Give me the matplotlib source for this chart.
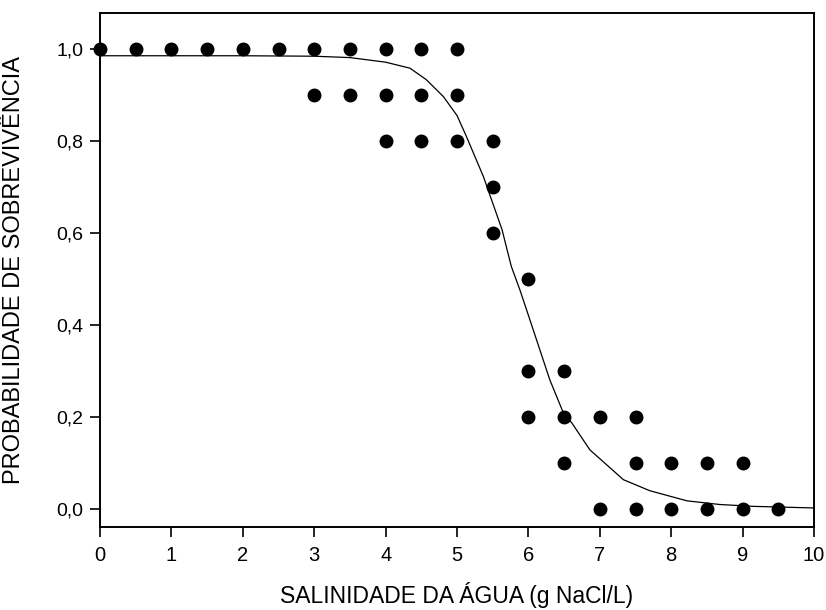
import matplotlib
matplotlib.use("Agg")
import matplotlib.pyplot as plt
from matplotlib.ticker import FuncFormatter

# observed survival proportions (salinity g NaCl/L, probability)
obs_x = [0, 0.5, 1, 1.5, 2, 2.5, 3, 3.5, 4, 4.5, 5,
         3, 3.5, 4, 4.5, 5,
         4, 4.5, 5, 5.5,
         5.5, 5.5, 6,
         6, 6.5,
         6, 6.5, 7, 7.5,
         6.5, 7.5, 8, 8.5, 9,
         7, 7.5, 8, 8.5, 9, 9.5]
obs_y = [1.0] * 11 + [0.9] * 5 + [0.8] * 4 + [0.7, 0.6, 0.5] + [0.3] * 2 + [0.2] * 4 + [0.1] * 5 + [0.0] * 6

# fitted curve
fit_x = [0, 1, 2, 3, 3.5, 4.0, 4.34, 4.57, 4.81, 5.0, 5.13, 5.37, 5.63, 5.76, 5.88,
         6.02, 6.3, 6.49, 6.61, 6.86, 7.33, 7.7, 8.22, 8.68, 9.15, 10]
fit_y = [0.985, 0.985, 0.985, 0.984, 0.981, 0.971, 0.958, 0.933, 0.896, 0.855, 0.81,
         0.722, 0.607, 0.527, 0.476, 0.411, 0.28, 0.208, 0.186, 0.128, 0.063, 0.039,
         0.017, 0.009, 0.005, 0.0015]

x_ticks = list(range(0, 11))
y_ticks = [0.0, 0.2, 0.4, 0.6, 0.8, 1.0]

plt.rcParams["font.family"] = ["Liberation Sans", "DejaVu Sans"]

fig = plt.figure(figsize=(8.26, 6.10), dpi=100)
ax = fig.add_axes([0.1211, 0.136, 0.8644, 0.8427])

ax.plot(fit_x, fit_y, color="black", lw=0.9)
ax.plot(obs_x, obs_y, "o", color="black", ms=9, mec="black", clip_on=False)

ax.set_xlim(0, 10)
ax.set_ylim(-0.04, 1.078)
ax.set_xticks(x_ticks)
ax.set_yticks(y_ticks)
ax.yaxis.set_major_formatter(FuncFormatter(lambda v, p: f"{v:.1f}".replace(".", ",")))
ax.tick_params(direction="out", length=7, width=1.2, colors="black")
ax.tick_params(axis="x", labelsize=14.5, pad=7)
ax.tick_params(axis="y", labelsize=14, pad=5)
for s in ax.spines.values():
    s.set_linewidth(1.4)

ax.set_xlabel("SALINIDADE DA ÁGUA (g NaCl/L)", fontsize=16.5)
ax.xaxis.label.set_va("baseline")
ax.xaxis.set_label_coords(0.5, -0.148)
ax.set_ylabel("PROBABILIDADE DE SOBREVIVÊNCIA", fontsize=17)
ax.yaxis.set_label_coords(-0.105, 0.5)

fig.savefig("out.png", dpi=100)
